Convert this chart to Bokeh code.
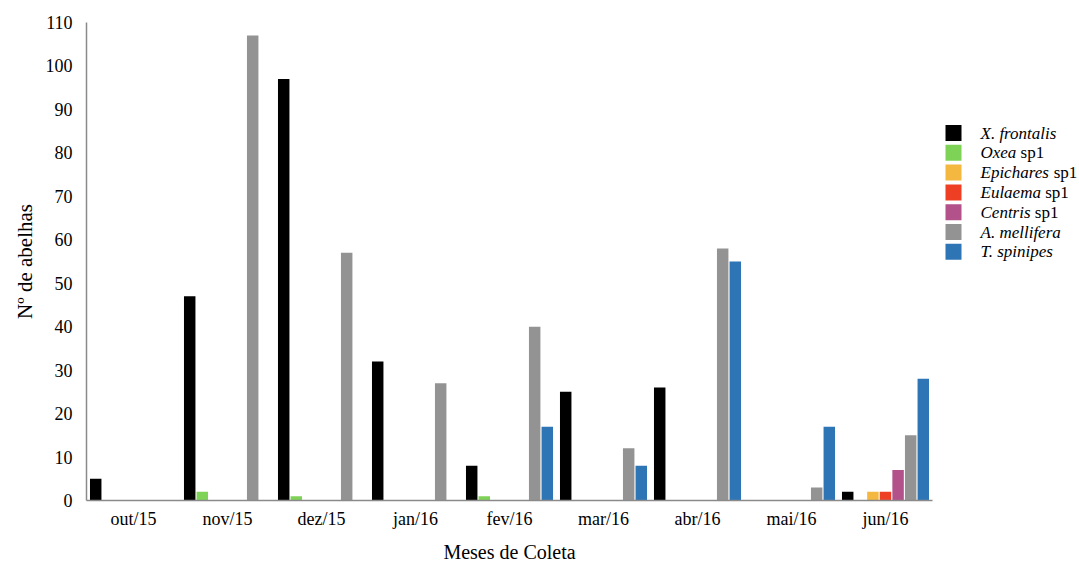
from bokeh.plotting import figure
from bokeh.models import FactorRange, Range1d, ColumnDataSource
from bokeh.layouts import row
from bokeh.transform import dodge
from bokeh.core.properties import value
from bokeh.embed import file_html
from bokeh.resources import INLINE

months = ["out/15", "nov/15", "dez/15", "jan/16", "fev/16", "mar/16", "abr/16", "mai/16", "jun/16"]
x_frontalis = [5, 47, 97, 32, 8, 25, 26, 0, 2]
oxea = [0, 2, 1, 0, 1, 0, 0, 0, 0]
epichares = [0, 0, 0, 0, 0, 0, 0, 0, 2]
eulaema = [0, 0, 0, 0, 0, 0, 0, 0, 2]
centris = [0, 0, 0, 0, 0, 0, 0, 0, 7]
a_mellifera = [0, 107, 57, 27, 40, 12, 58, 3, 15]
t_spinipes = [0, 0, 0, 0, 17, 8, 55, 17, 28]

series_keys = ["xf", "ox", "ep", "eu", "ce", "am", "ts"]
series_names = ["X. frontalis", "Oxea", "Epichares", "Eulaema", "Centris", "A. mellifera", "T. spinipes"]
series_suffix = ["", "sp1", "sp1", "sp1", "sp1", "", ""]
colors = ["#000000", "#7ed357", "#f4b73f", "#ee3f24", "#b3518a", "#939393", "#2e75b6"]

source = ColumnDataSource(dict(month=months, xf=x_frontalis, ox=oxea, ep=epichares,
                               eu=eulaema, ce=centris, am=a_mellifera, ts=t_spinipes))

FONT = "Liberation Serif"
H = 565
TOP, BOTTOM = 22, 65

p = figure(x_range=FactorRange(*months), y_range=Range1d(0, 110),
           width=934, height=H, output_backend="svg", toolbar_location=None,
           min_border_left=86, min_border_right=2, min_border_top=TOP, min_border_bottom=BOTTOM)

slot = 0.134
for i, key in enumerate(series_keys):
    off = (i - 3) * slot
    p.vbar(x=dodge("month", off, range=p.x_range), top=key, width=0.122,
           source=source, fill_color=colors[i], line_color=None)

p.outline_line_color = None
p.xgrid.visible = False
p.ygrid.visible = False

p.yaxis.ticker = list(range(0, 111, 10))
for ax in (p.xaxis[0], p.yaxis[0]):
    ax.major_tick_line_color = None
    ax.minor_tick_line_color = None
    ax.major_tick_out = 0
    ax.major_tick_in = 0
    ax.minor_tick_out = 0
    ax.minor_tick_in = 0
    ax.axis_line_color = "#8a8a8a"
    ax.axis_line_width = 1.5
    ax.major_label_text_font = FONT
    ax.major_label_text_font_size = "18px"
    ax.major_label_text_color = "#000000"
    ax.axis_label_text_font = FONT
    ax.axis_label_text_font_style = "normal"
    ax.axis_label_text_color = "#000000"

p.xaxis.axis_label_text_font_size = "20px"
p.yaxis.axis_label_text_font_size = "21px"
p.xaxis.major_label_standoff = 8
p.yaxis.major_label_standoff = 14
p.xaxis.axis_label = "Meses de Coleta"
p.yaxis.axis_label = "Nº de abelhas"
p.xaxis.axis_label_standoff = 9
p.yaxis.axis_label_standoff = 6

# legend panel drawn as its own small figure; its frame is aligned with the main
# frame, so the y range is given in page pixels of that frame (top 22, bottom 500)
LW = 145
lg = figure(x_range=Range1d(0, LW), y_range=Range1d(H - BOTTOM, TOP), width=LW, height=H,
            output_backend="svg", toolbar_location=None,
            min_border=0, min_border_left=0, min_border_right=0,
            min_border_top=TOP, min_border_bottom=BOTTOM)
lg.axis.visible = False
lg.grid.visible = False
lg.outline_line_color = None

FS = 17
italic_em = {"Oxea": 2.110, "Epichares": 4.055, "Eulaema": 3.555, "Centris": 2.945}
ys = [132.5 + 19.8 * i for i in range(7)]
lg.rect(x=[19] * 7, y=ys, width=16, height=16, fill_color=colors, line_color=None)
lg.text(x=[46] * 7, y=ys, text=series_names, text_font=value(FONT), text_font_style="italic",
        text_font_size=f"{FS}px", text_color="#000000", text_baseline="middle", text_align="left")
sfx_x = [46 + italic_em[series_names[i]] * FS + 0.25 * FS for i in range(7) if series_suffix[i]]
sfx_y = [ys[i] for i in range(7) if series_suffix[i]]
sfx_t = [series_suffix[i] for i in range(7) if series_suffix[i]]
lg.text(x=sfx_x, y=sfx_y, text=sfx_t, text_font=value(FONT), text_font_style="normal",
        text_font_size=f"{FS}px", text_color="#000000", text_baseline="middle", text_align="left")

layout = row(p, lg)
open("out.html", "w").write(file_html(layout, INLINE))
